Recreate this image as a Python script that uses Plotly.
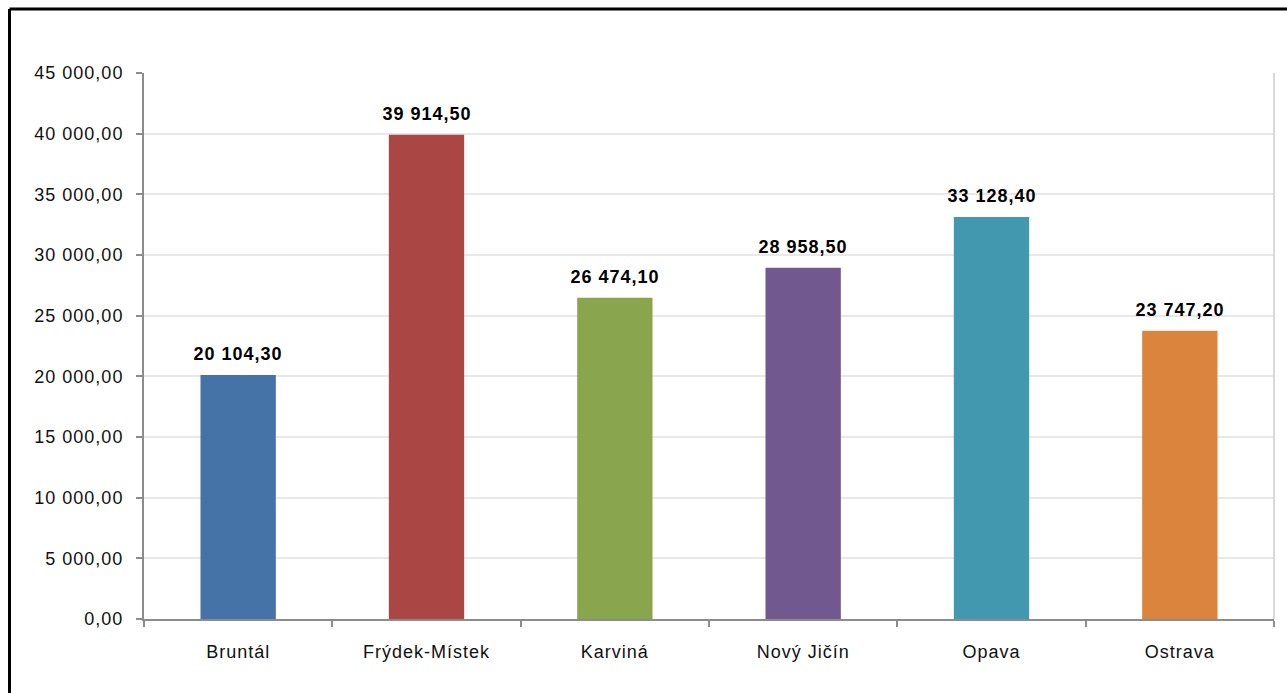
import plotly.graph_objects as go

categories = ["Bruntál", "Frýdek-Místek", "Karviná", "Nový Jičín", "Opava", "Ostrava"]
values = [20104.30, 39914.50, 26474.10, 28958.50, 33128.40, 23747.20]
colors = ["#4572A7", "#AA4643", "#89A54E", "#71588F", "#4198AF", "#DB843D"]
y_ticks = [0, 5000, 10000, 15000, 20000, 25000, 30000, 35000, 40000, 45000]

FONT = "Liberation Sans, Arial, sans-serif"


def fmt(v):
    s = f"{v:,.2f}"
    return s.replace(",", " ").replace(".", ",")


fig = go.Figure()
fig.add_trace(go.Bar(
    x=categories, y=values, marker=dict(color=colors, line=dict(width=0)),
    width=0.4, hoverinfo="skip",
))

for c, v in zip(categories, values):
    fig.add_annotation(
        x=c, y=v, text="<b>" + fmt(v) + "</b>", showarrow=False,
        yanchor="bottom", yshift=9,
        font=dict(family=FONT, size=18, color="#000000"),
    )

fig.update_layout(
    width=1287, height=693,
    margin=dict(l=144, r=13, t=73, b=74),
    paper_bgcolor="white", plot_bgcolor="white",
    showlegend=False,
    font=dict(family=FONT, size=18, color="#111111"),
    xaxis=dict(
        showline=True, linecolor="#8c8c8c", linewidth=2,
        ticks="outside", tickson="boundaries", ticklen=6, tickcolor="#8c8c8c", tickwidth=2,
        showgrid=False, ticklabelstandoff=15,
        tickfont=dict(size=18),
    ),
    yaxis=dict(
        range=[0, 45000], tickvals=y_ticks, ticktext=[fmt(t) for t in y_ticks],
        showline=True, linecolor="#8c8c8c", linewidth=2,
        ticks="outside", ticklen=6, tickcolor="#8c8c8c", tickwidth=2,
        showgrid=True, gridcolor="#e8e8e8", gridwidth=2,
        zeroline=False, ticklabelstandoff=9,
        tickfont=dict(size=18),
    ),
    shapes=[
        dict(type="line", xref="paper", yref="paper", x0=1, x1=1, y0=0, y1=1,
             line=dict(color="#d9d9d9", width=2)),
        dict(type="line", xref="paper", yref="paper",
             x0=(9.5 - 144) / 1130, x1=(1287 - 144) / 1130 + 0.01,
             y0=(619 - 9) / 546, y1=(619 - 9) / 546,
             line=dict(color="#000000", width=3)),
        dict(type="line", xref="paper", yref="paper",
             x0=(9.5 - 144) / 1130, x1=(9.5 - 144) / 1130,
             y0=(619 - 9) / 546, y1=(619 - 700) / 546,
             line=dict(color="#000000", width=3)),
    ],
)

post = """
document.body.style.margin = '0';
var st = document.createElement('style');
st.textContent = '.main-svg text { letter-spacing: 1px; }';
document.head.appendChild(st);
"""
fig.write_html("out.html", post_script=post, config={"displayModeBar": False})
